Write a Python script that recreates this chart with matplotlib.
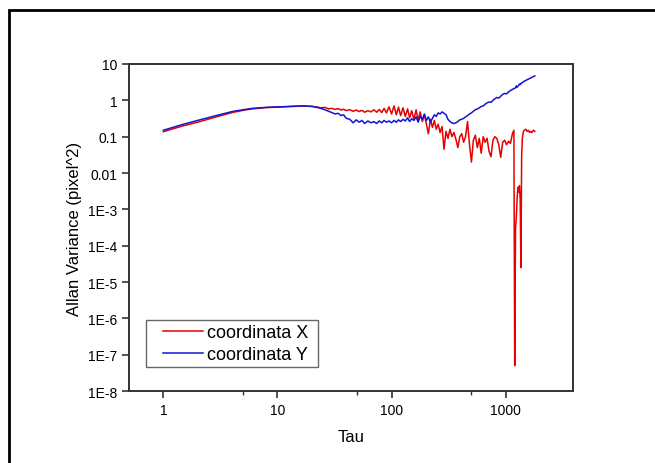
import matplotlib
matplotlib.use("Agg")
import matplotlib.pyplot as plt
import matplotlib.ticker as mticker
from matplotlib.patches import Rectangle

plt.rcParams['font.family'] = ['Liberation Sans', 'DejaVu Sans']

# tau values shared by both series
tau = [1, 1.5, 2, 3, 4, 5, 6, 8, 10, 12, 14, 17, 20,
       22, 24, 26, 28, 30, 32, 34, 36, 38, 40, 43, 46, 49, 52, 55, 58,
       62, 66, 70, 74, 78, 82, 86, 90, 95, 100, 105, 110, 115, 120,
       126, 132, 138, 144, 150, 157, 164, 171, 178, 186, 194, 202,
       210, 219, 228, 237, 246, 256, 266, 277, 288, 300, 312, 325,
       338, 352, 366, 381, 396, 412, 428, 445, 463, 482, 501, 521,
       542, 564, 587, 610, 635, 660, 687, 714, 743, 773, 804, 836,
       870, 905, 941, 979, 1018, 1059, 1101, 1145, 1180, 1200, 1220,
       1240, 1260, 1280, 1300, 1320, 1340, 1360, 1380, 1400, 1430,
       1460, 1500, 1540, 1580, 1620, 1660, 1700, 1750, 1800]

coord_x = [0.137, 0.20, 0.25, 0.36, 0.46, 0.53, 0.58, 0.63, 0.65, 0.67, 0.68, 0.70, 0.68,
           0.66, 0.62, 0.64, 0.58, 0.60, 0.56, 0.59, 0.54, 0.57, 0.52, 0.55, 0.50, 0.54, 0.49, 0.53, 0.47,
           0.52, 0.48, 0.55, 0.47, 0.56, 0.46, 0.60, 0.45, 0.66, 0.42, 0.70, 0.40, 0.65, 0.38,
           0.62, 0.36, 0.58, 0.33, 0.52, 0.30, 0.55, 0.28, 0.48, 0.26, 0.40, 0.22,
           0.12, 0.30, 0.18, 0.28, 0.16, 0.22, 0.13, 0.19, 0.045, 0.14, 0.09, 0.16,
           0.10, 0.13, 0.085, 0.05, 0.10, 0.12, 0.07, 0.10, 0.26, 0.06, 0.02, 0.08,
           0.11, 0.05, 0.09, 0.035, 0.10, 0.07, 0.09, 0.04, 0.028, 0.08, 0.10, 0.09,
           0.06, 0.027, 0.07, 0.08, 0.06, 0.075, 0.065, 0.12, 0.15, 5e-8, 3e-4,
           6e-4, 2e-3, 4e-3, 3e-3, 4.5e-3, 2e-3, 2.5e-5, 0.03, 0.09, 0.14,
           0.15, 0.16, 0.14, 0.15, 0.13, 0.14, 0.13, 0.15, 0.14]

coord_y = [0.150, 0.22, 0.28, 0.39, 0.49, 0.55, 0.60, 0.64, 0.66, 0.67, 0.69, 0.70, 0.68,
           0.64, 0.60, 0.55, 0.50, 0.46, 0.42, 0.44, 0.38, 0.40, 0.32, 0.30, 0.24, 0.29, 0.25, 0.28, 0.23,
           0.27, 0.24, 0.26, 0.23, 0.27, 0.24, 0.28, 0.25, 0.27, 0.24, 0.28, 0.25, 0.29, 0.26,
           0.30, 0.27, 0.33, 0.26, 0.31, 0.28, 0.35, 0.25, 0.36, 0.30, 0.42, 0.28,
           0.35, 0.25, 0.32, 0.40, 0.36, 0.45, 0.42, 0.48, 0.44, 0.40, 0.30, 0.26,
           0.24, 0.23, 0.24, 0.26, 0.29, 0.30, 0.32, 0.35, 0.38, 0.42, 0.45, 0.50,
           0.55, 0.58, 0.62, 0.68, 0.70, 0.78, 0.85, 0.90, 0.88, 1.0, 1.1, 1.2,
           1.15, 1.3, 1.45, 1.55, 1.5, 1.7, 1.85, 2.0, 2.1, 2.15, 2.2,
           2.5, 2.3, 2.4, 2.6, 2.8, 2.7, 2.9, 3.0, 3.1, 3.2,
           3.4, 3.5, 3.7, 3.8, 4.0, 4.1, 4.3, 4.5, 4.7]

y_ticks = [1e-8, 1e-7, 1e-6, 1e-5, 1e-4, 1e-3, 1e-2, 1e-1, 1, 10]
y_ticklabels = ['1E-8', '1E-7', '1E-6', '1E-5', '1E-4', '1E-3', '0.01', '0.1', '1', '10']
x_ticks = [1, 10, 100, 1000]
x_ticklabels = ['1', '10', '100', '1000']

fig = plt.figure(figsize=(6.55, 4.64), dpi=100)
ax = fig.add_axes([0.197, 0.155, 0.678, 0.705])

ax.plot(tau, coord_x, color='#e60000', lw=1.1, label='coordinata X')
ax.plot(tau, coord_y, color='#1414d2', lw=1.1, label='coordinata Y')

ax.set_xscale('log')
ax.set_yscale('log')
ax.set_xlim(0.5, 3900)
ax.set_ylim(1e-8, 10)

ax.set_xticks(x_ticks)
ax.set_xticklabels(x_ticklabels)
ax.set_yticks(y_ticks)
ax.set_yticklabels(y_ticklabels)
ax.xaxis.set_minor_locator(mticker.FixedLocator([5, 50, 500]))
ax.yaxis.set_minor_locator(mticker.LogLocator(base=10, subs=(2, 5)))
ax.xaxis.set_minor_formatter(mticker.NullFormatter())
ax.yaxis.set_minor_formatter(mticker.NullFormatter())

ax.tick_params(which='major', direction='out', length=5, width=1.2, labelsize=10, color='#333333')
ax.tick_params(which='minor', direction='out', length=3, width=1.0, color='#333333')
for s in ax.spines.values():
    s.set_linewidth(1.4)
    s.set_color('#333333')

ax.set_xlabel('Tau', fontsize=12, labelpad=9)
ax.set_ylabel('Allan Variance (pixel^2)', fontsize=12, labelpad=4)

# legend box drawn separately so its padding matches the original
ax.add_patch(Rectangle((0.038, 0.073), 0.388, 0.144, transform=ax.transAxes,
                       fill=False, edgecolor='#666666', lw=1.0, zorder=4))
leg = ax.legend(loc='center left', bbox_to_anchor=(0.0766, 0.145), borderaxespad=0,
                frameon=False, fontsize=13, handlelength=2.2, handletextpad=0.25,
                labelspacing=0.25, borderpad=0)

# outer frame of the picture (right and bottom run off the image)
fig.patches.append(Rectangle((9 / 655, -0.2), 1.2, 1 - 11 / 464 + 0.2,
                             transform=fig.transFigure, fill=False,
                             edgecolor='black', lw=2))

fig.savefig('out.png', dpi=100)
